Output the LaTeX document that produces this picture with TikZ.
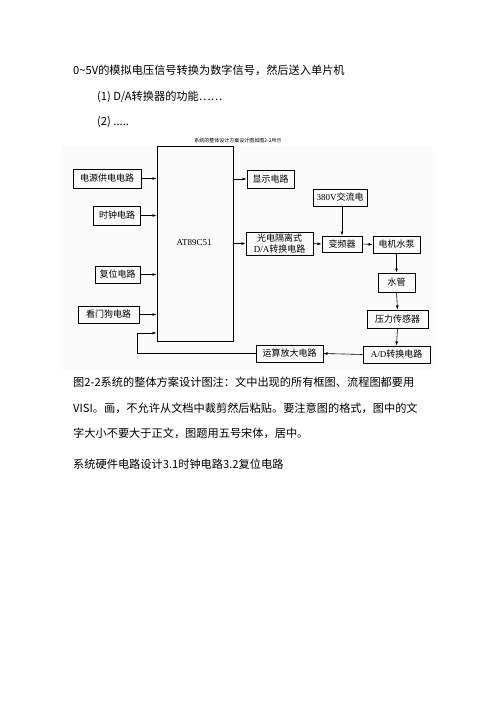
\documentclass[tikz,border=0pt]{standalone}
\usepackage{fontspec}
\setmainfont{Noto Sans CJK SC}
\newfontfamily\lat{Liberation Serif}
\usetikzlibrary{arrows.meta}

\begin{document}
\begin{tikzpicture}[x=1pt, y=-1pt,
  blk/.style={draw, line width=1pt, inner sep=0pt, align=center, font=\fontsize{9}{10.5}\selectfont},
  arr/.style={line width=0.6pt, -{Latex[length=4pt, width=3pt]}},
  txt/.style={anchor=west, inner sep=0pt, font=\fontsize{11.2}{12}\selectfont}]
  \useasboundingbox[fill=white] (0,0) rectangle (500,707);
  \fill[black!1.5] (62,147) rectangle (433,371);

  % text above the figure
  \node[txt] (l1) at (73,70) {0\textasciitilde5V的模拟电压信号转换为数字信号，然后送入单片机};
  \node[txt] (l2) at (97,97) {(1) D/A转换器的功能……};
  \node[txt] (l3) at (97,122) {(2) .....};
  \node[inner sep=0pt, font=\fontsize{5}{6}\selectfont] (cap) at (238,141) {系统的整体设计方案设计图如图2-2所示};

  % blocks
  \node[blk, minimum width=76, minimum height=195] (mcu) at (195,243.5) {};
  \node[font=\lat\fontsize{9}{10}\selectfont] (mcul) at (194,243) {AT89C51};
  \node[blk, minimum width=68, minimum height=19] (power) at (107,178.5) {电源供电电路};
  \node[blk, minimum width=47, minimum height=19] (clock) at (117,215.5) {时钟电路};
  \node[blk, minimum width=45, minimum height=17] (reset) at (117.5,274.5) {复位电路};
  \node[blk, minimum width=61, minimum height=17] (dog) at (108.5,314.5) {看门狗电路};
  \node[blk, minimum width=47, minimum height=18] (disp) at (270.5,179) {显示电路};
  \node[blk, minimum width=67, minimum height=23] (dac) at (279.5,243.5) {光电隔离式\\{\lat D/A}转换电路};
  \node[blk, minimum width=54, minimum height=17] (ac) at (340,197.5) {{\lat 380V}交流电};
  \node[blk, minimum width=40, minimum height=16] (inv) at (342,244) {变频器};
  \node[blk, minimum width=47, minimum height=17] (pump) at (396.5,244.5) {电机水泵};
  \node[blk, minimum width=37, minimum height=19] (pipe) at (396.5,282.5) {水管};
  \node[blk, minimum width=61, minimum height=18] (sens) at (397.5,319) {压力传感器};
  \node[blk, minimum width=67, minimum height=17] (adc) at (396.5,354.5) {{\lat A/D}转换电路};
  \node[blk, minimum width=67, minimum height=17] (amp) at (289.5,353.5) {运算放大电路};

  % connections
  \foreach \n in {power, clock, reset, dog}
    \draw[arr] (\n.east) -- (\n.east -| mcu.west);
  \draw[arr] (disp.west -| mcu.east) -- (disp.west);
  \draw[arr] (dac.west -| mcu.east) -- (dac.west);
  \draw[arr] (dac.east) -- (inv.west);
  \draw[arr] (ac.south -| inv.north) -- (inv.north);
  \draw[arr] (inv.east) -- (pump.west);
  \draw[arr] (pump.south) -- (pipe.north);
  \draw[arr] (pipe.south) -- (sens.north);
  \draw[arr] (sens.south) -- (adc.south |- adc.north);
  \draw[arr] (adc.west) -- (amp.east);
  \coordinate (fb) at (137,333);
  \draw[arr] (amp.west) -| (fb) -- (fb -| mcu.west);

  % text below the figure
  \node[txt] (b1) at (73,382) {图2-2系统的整体方案设计图注：文中出现的所有框图、流程图都要用};
  \node[txt] (b2) at (73,408) {VISI。画，不允许从文档中裁剪然后粘贴。要注意图的格式，图中的文};
  \node[txt] (b3) at (73,433) {字大小不要大于正文，图题用五号宋体，居中。};
  \node[txt] (b4) at (73,464) {系统硬件电路设计3.1时钟电路3.2复位电路};
\end{tikzpicture}
\end{document}
